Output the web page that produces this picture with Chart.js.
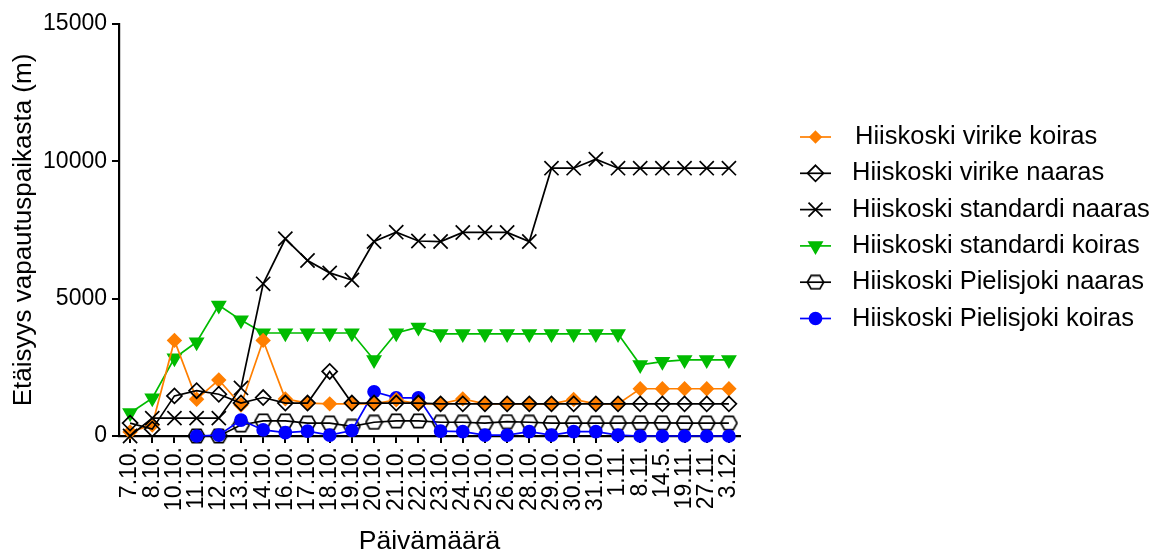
<!DOCTYPE html>
<html><head><meta charset="utf-8">
<script src="https://cdn.jsdelivr.net/npm/chart.js@4"></script>
<style>html,body{margin:0;padding:0;background:#fff;overflow:hidden}</style>
</head><body>
<canvas id="c" width="1158" height="558" style="display:block;width:1158px;height:558px"></canvas>
<script>
const labels = ['7.10.','8.10.','10.10.','11.10.','12.10.','13.10.','14.10.','16.10.','17.10.','18.10.','19.10.','20.10.','21.10.','22.10.','23.10.','24.10.','25.10.','26.10.','28.10.','29.10.','30.10.','31.10.','1.11.','8.11.','14.5.','19.11.','27.11.','3.12.'];
const virikeKoiras = [150, 400, 3480, 1340, 2040, 1130, 3480, 1350, 1200, 1170, 1170, 1170, 1320, 1170, 1170, 1350, 1170, 1170, 1170, 1170, 1330, 1170, 1170, 1720, 1720, 1720, 1720, 1720];
const virikeNaaras = [470, 250, 1460, 1650, 1520, 1200, 1400, 1200, 1200, 2350, 1200, 1200, 1200, 1200, 1170, 1170, 1170, 1170, 1170, 1170, 1170, 1170, 1170, 1170, 1170, 1170, 1170, 1170];
const standardiNaaras = [0, 650, 650, 650, 650, 1750, 5540, 7180, 6390, 5940, 5680, 7080, 7420, 7100, 7080, 7410, 7410, 7410, 7080, 9750, 9750, 10080, 9750, 9750, 9750, 9750, 9750, 9750];
const standardiKoiras = [840, 1380, 2840, 3420, 4760, 4220, 3750, 3750, 3750, 3750, 3750, 2770, 3750, 3960, 3720, 3720, 3720, 3720, 3720, 3720, 3720, 3720, 3720, 2590, 2710, 2770, 2770, 2770];
const pielisjokiNaaras = [null, null, null, 0, 0, 400, 550, 550, 470, 470, 350, 500, 550, 550, 500, 500, 470, 520, 500, 470, 470, 470, 470, 480, 480, 470, 470, 470];
const pielisjokiKoiras = [null, null, null, 0, 30, 580, 220, 120, 180, 30, 200, 1610, 1390, 1390, 180, 160, 30, 30, 160, 30, 160, 160, 30, 0, 0, 0, 0, 0];
const seriesNames = ['Hiiskoski virike koiras','Hiiskoski virike naaras','Hiiskoski standardi naaras','Hiiskoski standardi koiras','Hiiskoski Pielisjoki naaras','Hiiskoski Pielisjoki koiras'];
const yTickValues = [0, 5000, 10000, 15000];

const FONT = "'Liberation Sans', Arial, sans-serif";
const ORANGE = '#FF7F00', GREEN = '#00BB00', BLUE = '#0000FF', BLACK = '#000000';

function hexCanvas(w, h, lw) {
  const c = document.createElement('canvas');
  c.width = w; c.height = h;
  const x = c.getContext('2d');
  x.strokeStyle = BLACK; x.lineWidth = lw;
  const m = lw / 2 + 0.5;
  x.beginPath();
  x.moveTo(m, h / 2);
  x.lineTo(w * 0.27, m);
  x.lineTo(w * 0.73, m);
  x.lineTo(w - m, h / 2);
  x.lineTo(w * 0.73, h - m);
  x.lineTo(w * 0.27, h - m);
  x.closePath();
  x.stroke();
  return c;
}
const hexImg = hexCanvas(19, 16, 1.7);

const styles = [
  {color: ORANGE, style: 'rectRot', radius: 6.5, fill: ORANGE, rot: 0, order: 3},
  {color: BLACK, style: 'rectRot', radius: 7.5, fill: 'rgba(0,0,0,0)', rot: 0, order: 1},
  {color: BLACK, style: 'crossRot', radius: 10, fill: 'rgba(0,0,0,0)', rot: 0, order: 2},
  {color: GREEN, style: 'triangle', radius: 7.5, fill: GREEN, rot: 180, order: 4},
  {color: BLACK, style: hexImg, radius: 8, fill: 'rgba(0,0,0,0)', rot: 0, order: 6},
  {color: BLUE, style: 'circle', radius: 6, fill: BLUE, rot: 0, order: 5}
];
const seriesData = [virikeKoiras, virikeNaaras, standardiNaaras, standardiKoiras, pielisjokiNaaras, pielisjokiKoiras];

const datasets = seriesData.map((d, i) => ({
  label: seriesNames[i],
  data: d,
  borderColor: styles[i].color,
  backgroundColor: styles[i].fill,
  borderWidth: 1.7,
  pointStyle: styles[i].style,
  pointRadius: styles[i].radius,
  pointHoverRadius: styles[i].radius,
  pointRotation: styles[i].rot,
  pointBorderColor: styles[i].color,
  pointBackgroundColor: styles[i].fill,
  pointBorderWidth: 1.7,
  tension: 0,
  spanGaps: false,
  clip: false,
  order: styles[i].order
}));

function drawLegendMarker(ctx, i, x, y) {
  ctx.save();
  ctx.lineWidth = 1.7;
  ctx.strokeStyle = styles[i].color;
  ctx.fillStyle = styles[i].fill;
  ctx.beginPath();
  if (i === 0) {
    const r = 5.5;
    ctx.moveTo(x, y - r); ctx.lineTo(x + r, y); ctx.lineTo(x, y + r); ctx.lineTo(x - r, y); ctx.closePath();
    ctx.fill(); ctx.stroke();
  } else if (i === 1) {
    const r = 8;
    ctx.moveTo(x, y - r); ctx.lineTo(x + r, y); ctx.lineTo(x, y + r); ctx.lineTo(x - r, y); ctx.closePath();
    ctx.stroke();
  } else if (i === 2) {
    const r = 7;
    ctx.moveTo(x - r, y - r); ctx.lineTo(x + r, y + r);
    ctx.moveTo(x + r, y - r); ctx.lineTo(x - r, y + r);
    ctx.stroke();
  } else if (i === 3) {
    const r = 7.5;
    ctx.moveTo(x - r * 0.866, y - r * 0.5); ctx.lineTo(x + r * 0.866, y - r * 0.5); ctx.lineTo(x, y + r); ctx.closePath();
    ctx.fill(); ctx.stroke();
  } else if (i === 4) {
    ctx.drawImage(hexImg, x - hexImg.width / 2, y - hexImg.height / 2);
  } else {
    ctx.arc(x, y, 6, 0, Math.PI * 2);
    ctx.fill(); ctx.stroke();
  }
  ctx.restore();
}

const legendPlugin = {
  id: 'customLegend',
  afterDraw(chart) {
    const ctx = chart.ctx;
    ctx.save();
    ctx.font = '25.5px ' + FONT;
    ctx.textBaseline = 'middle';
    ctx.textAlign = 'left';
    seriesNames.forEach((name, i) => {
      const y = 137 + i * 36.3;
      ctx.strokeStyle = styles[i].color;
      ctx.lineWidth = 1.7;
      ctx.beginPath(); ctx.moveTo(800, y); ctx.lineTo(831, y); ctx.stroke();
      drawLegendMarker(ctx, i, 815.5, y);
      ctx.fillStyle = BLACK;
      ctx.fillText(name, i === 0 ? 855 : 852, y);
    });
    ctx.restore();
  }
};

new Chart(document.getElementById('c'), {
  type: 'line',
  data: {labels: labels, datasets: datasets},
  options: {
    responsive: false,
    animation: false,
    devicePixelRatio: 1,
    layout: {padding: {left: 0, top: 24, right: 418, bottom: 0}},
    plugins: {legend: {display: false}, tooltip: {enabled: false}},
    scales: {
      x: {
        type: 'category',
        offset: true,
        grid: {display: true, drawOnChartArea: false, drawTicks: true, tickLength: 7, offset: false, color: BLACK, lineWidth: 2},
        border: {display: true, color: BLACK, width: 2.2},
        ticks: {autoSkip: false, minRotation: 90, maxRotation: 90, color: BLACK, padding: 4, font: {size: 23, family: FONT}},
        title: {display: true, text: 'Päivämäärä', color: BLACK, font: {size: 26.5, family: FONT}, padding: {top: 0, bottom: 0}},
        afterFit(s) { s.height = 122; }
      },
      y: {
        min: 0, max: 15000,
        afterBuildTicks(s) { s.ticks = yTickValues.map(v => ({value: v})); },
        grid: {display: true, drawOnChartArea: false, drawTicks: true, tickLength: 7, color: BLACK, lineWidth: 2},
        border: {display: true, color: BLACK, width: 2.2},
        ticks: {color: BLACK, padding: 5, font: {size: 23, family: FONT}, callback: v => String(v)},
        title: {display: true, text: 'Etäisyys vapautuspaikasta (m)', color: BLACK, font: {size: 26, family: FONT}, padding: {top: 8, bottom: 0}},
        afterFit(s) { s.width = 119; }
      }
    }
  },
  plugins: [legendPlugin]
});
</script>
</body></html>
